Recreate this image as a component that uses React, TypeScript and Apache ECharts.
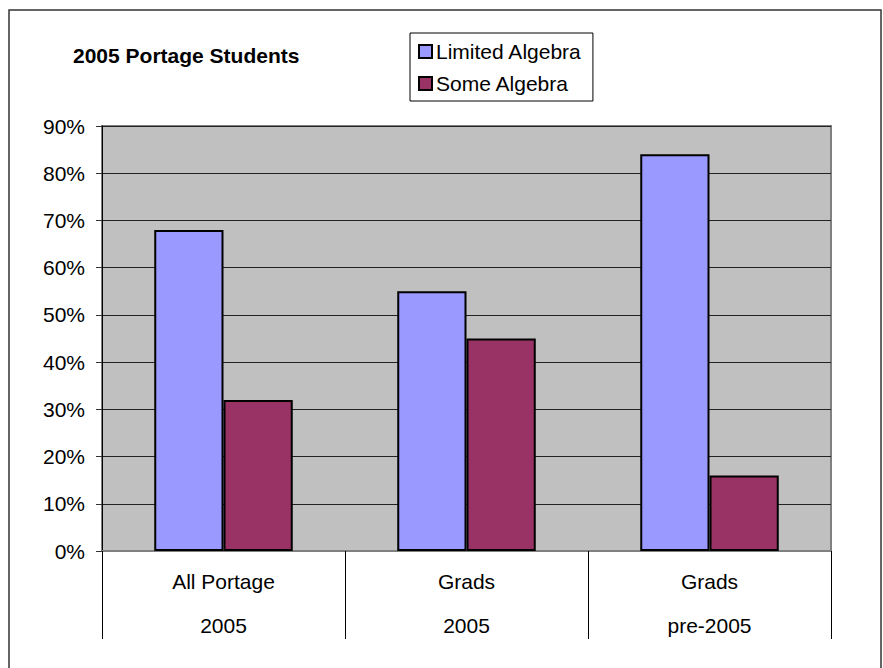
import React, { useEffect, useRef } from "react";
import * as echarts from "echarts";

const categoryTop = ["All Portage", "Grads", "Grads"];
const categoryBottom = ["2005", "2005", "pre-2005"];
const limitedAlgebra = [68, 55, 84];
const someAlgebra = [32, 45, 16];
const yTicks = { min: 0, max: 90, interval: 10 };

const FONT = '"Liberation Sans", Arial, sans-serif';

export default function App() {
  const ref = useRef<HTMLDivElement>(null);
  useEffect(() => {
    if (!ref.current) return;
    const chart = echarts.init(ref.current, null, { renderer: "svg" });
    const categories = categoryTop.map((t, i) => t + "\n" + categoryBottom[i]);
    chart.setOption({
      animation: false,
      backgroundColor: "#ffffff",
      textStyle: { fontFamily: FONT },
      title: {
        text: "2005 Portage Students",
        left: 73,
        top: 43,
        padding: 0,
        textStyle: { fontFamily: FONT, fontSize: 21, fontWeight: "bold", color: "#000", lineHeight: 24 },
      },
      legend: {
        orient: "vertical",
        left: 410,
        top: 33,
        padding: [8, 11, 7, 8],
        itemGap: 11,
        itemWidth: 13,
        itemHeight: 13,
        borderColor: "#000",
        borderWidth: 1,
        backgroundColor: "#fff",
        icon: "rect",
        itemStyle: { borderColor: "#000", borderWidth: 2 },
        textStyle: { fontFamily: FONT, fontSize: 21, color: "#000", padding: [0, 0, 0, -1] },
        data: ["Limited Algebra", "Some Algebra"],
      },
      graphic: [
        {
          type: "rect",
          shape: { x: 9, y: 10, width: 872, height: 700 },
          style: { fill: "none", stroke: "#333", lineWidth: 1.5 },
          silent: true,
          z: -1,
        },
      ],
      grid: {
        left: 102,
        top: 126,
        width: 729,
        height: 425,
        show: true,
        backgroundColor: "#C0C0C0",
        borderColor: "#808080",
        borderWidth: 2,
      },
      xAxis: {
        type: "category",
        data: categories,
        axisLine: { show: true, lineStyle: { color: "#808080", width: 2 } },
        axisTick: { show: true, length: 88, lineStyle: { color: "#000", width: 1 } },
        axisLabel: {
          interval: 0,
          margin: 8,
          lineHeight: 44,
          fontSize: 21,
          fontFamily: FONT,
          color: "#000",
        },
        splitLine: { show: false },
      },
      yAxis: {
        type: "value",
        min: yTicks.min,
        max: yTicks.max,
        interval: yTicks.interval,
        axisLine: { show: true, lineStyle: { color: "#000", width: 1 } },
        axisTick: { show: true, length: 6, lineStyle: { color: "#333", width: 1 } },
        axisLabel: {
          formatter: "{value}%",
          margin: 17,
          fontSize: 21,
          fontFamily: FONT,
          color: "#000",
        },
        splitLine: { show: true, lineStyle: { color: "#222", width: 1 } },
      },
      series: [
        {
          name: "Limited Algebra",
          type: "bar",
          data: limitedAlgebra,
          barGap: "0%",
          barCategoryGap: "43%",
          itemStyle: { color: "#9999FF", borderColor: "#000", borderWidth: 2 },
        },
        {
          name: "Some Algebra",
          type: "bar",
          data: someAlgebra,
          barGap: "0%",
          barCategoryGap: "43%",
          itemStyle: { color: "#993366", borderColor: "#000", borderWidth: 2 },
        },
      ],
    });
    return () => chart.dispose();
  }, []);
  return (
    <div
      ref={ref}
      style={{ position: "fixed", left: 0, top: 0, width: 883, height: 668 }}
    />
  );
}
